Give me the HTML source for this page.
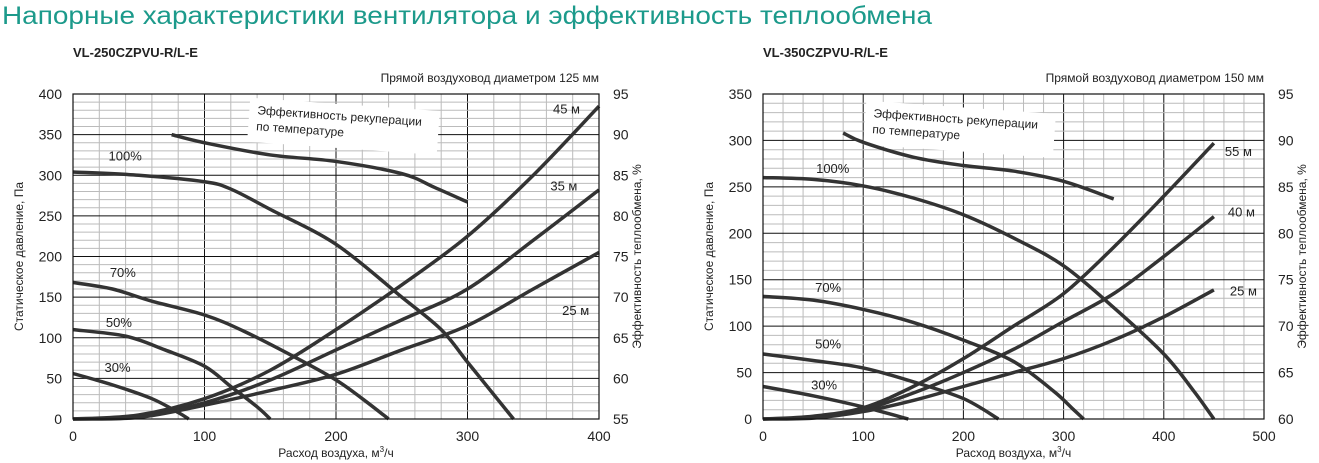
<!DOCTYPE html>
<html><head><meta charset="utf-8"><style>
body{margin:0;background:#fff;width:1319px;height:463px;overflow:hidden;font-family:"Liberation Sans",sans-serif}
svg{position:absolute;left:0;top:0}
text{font-family:"Liberation Sans",sans-serif;fill:#222}
</style></head><body>
<svg id="c" width="1319" height="463">
<text x="2" y="24" font-size="25" style="fill:#1c9a8b" textLength="930" lengthAdjust="spacingAndGlyphs">Напорные характеристики вентилятора и эффективность теплообмена</text>
</svg>
<script>
// Left chart data (x in m3/h, y in Pa; eff in %)
const L_speedLabels=["100%","70%","50%","30%"];
const L_s100x=[0,50,100,120,150,200,250,280,300,320,335];
const L_s100y=[304,300,292,283,258,215,150,110,70,30,0];
const L_s70x=[0,30,60,100,130,170,200,220,240];
const L_s70y=[168,160,145,128,108,75,48,25,0];
const L_s50x=[0,40,70,100,120,140,150];
const L_s50y=[110,102,85,65,40,15,0];
const L_s30x=[0,30,60,80,88];
const L_s30y=[56,42,25,8,0];
const L_effx=[75,100,150,200,250,275,300];
const L_effy=[90,89,87.5,86.7,85.2,83.5,81.7];
const L_ductLabels=["45 м","35 м","25 м"];
const L_d1x=[0,50,100,150,200,250,300,350,400];
const L_d1y=[0,5,25,60,110,165,225,300,385];
const L_d2y=[0,3,20,48,85,122,160,220,282];
const L_d3y=[0,2,17,35,55,85,115,160,205];
const L_xticks=[0,100,200,300,400];
const L_yticks=[0,50,100,150,200,250,300,350,400];
const L_rticks=[55,60,65,70,75,80,85,90,95];
// Right chart data
const R_s100x=[0,50,100,150,200,250,300,350,400,430,450];
const R_s100y=[260,258,251,238,220,195,165,120,70,30,0];
const R_s70x=[0,50,100,150,200,250,290,310,320];
const R_s70y=[132,128,118,104,85,62,30,10,0];
const R_s50x=[0,50,100,150,200,235];
const R_s50y=[70,63,55,40,22,0];
const R_s30x=[0,50,100,145];
const R_s30y=[35,25,13,0];
const R_effx=[80,100,150,200,250,300,350];
const R_effy=[90.8,89.8,88.2,87.3,86.7,85.6,83.7];
const R_ductLabels=["55 м","40 м","25 м"];
const R_dx=[0,50,100,150,200,250,300,350,400,450];
const R_d1y=[0,3,12,35,65,100,135,185,240,297];
const R_d2y=[0,2,10,28,50,75,105,135,175,218];
const R_d3y=[0,1,8,20,35,50,65,85,110,139];
const R_xticks=[0,100,200,300,400,500];
const R_yticks=[0,50,100,150,200,250,300,350];
const R_rticks=[60,65,70,75,80,85,90,95];

const svg=document.getElementById('c');const NS='http://www.w3.org/2000/svg';
function el(t,a,txt){const e=document.createElementNS(NS,t);for(const k in a)e.setAttribute(k,a[k]);if(txt!==undefined)e.textContent=txt;svg.appendChild(e);return e;}
function smooth(p){let d='M'+p[0][0]+','+p[0][1];for(let i=0;i<p.length-1;i++){const p0=p[i-1]||p[i],p1=p[i],p2=p[i+1],p3=p[i+2]||p2;d+=' C'+(p1[0]+(p2[0]-p0[0])/6)+','+(p1[1]+(p2[1]-p0[1])/6)+' '+(p2[0]-(p3[0]-p1[0])/6)+','+(p2[1]-(p3[1]-p1[1])/6)+' '+p2[0]+','+p2[1];}return d;}
function chart(c){
 const X=v=>c.x0+(v-c.xmin)/(c.xmax-c.xmin)*(c.x1-c.x0);
 const Y=v=>c.y0-(v/c.ymax)*(c.y0-c.y1);
 const R=v=>c.y0-(v-c.rmin)/(c.rmax-c.rmin)*(c.y0-c.y1);
 for(let v=0;v<=c.xmax;v+=20){const l=el('line',{x1:X(v),x2:X(v),y1:c.y1,y2:c.y0,stroke:v%100?'#bbb':'#111','stroke-width':1});
 }
 for(let v=0;v<=c.ymax;v+=10){const l=el('line',{x1:c.x0,x2:c.x1,y1:Y(v),y2:Y(v),stroke:v%50?'#bbb':'#111','stroke-width':1});
 }
 c.xt.forEach(v=>{const t=el('text',{x:X(v),y:c.y0+22,'font-size':14,'text-anchor':'middle'},v);});
 c.yt.forEach(v=>{const t=el('text',{x:c.x0-11,y:Y(v)+5,'font-size':14,'text-anchor':'end'},v);});
 c.rt.forEach(v=>{const t=el('text',{x:c.x1+14,y:R(v)+5,'font-size':14},v);});
 let t=el('text',{x:(c.x0+c.x1)/2,y:c.y0+38,'font-size':12,'text-anchor':'middle'});t.innerHTML='Расход воздуха, м<tspan dy="-5" font-size="8">3</tspan><tspan dy="5">/ч</tspan>';
 
 t=el('text',{x:0,y:0,'font-size':12,'text-anchor':'middle',transform:`translate(${c.x0-50},${(c.y0+c.y1)/2}) rotate(-90)`},'Статическое давление, Па');
 
 t=el('text',{x:0,y:0,'font-size':12,'text-anchor':'middle',transform:`translate(${c.x1+42},${(c.y0+c.y1)/2}) rotate(-90)`},'Эффективность теплообмена, %');
 
 t=el('text',{x:c.x0,y:57,'font-size':13,'font-weight':'bold'},c.model);
 t=el('text',{x:c.x1,y:82,'font-size':12,'text-anchor':'end'},c.duct);
 // eff label box
 const bx=X(c.effLab[0]),by=Y(c.effLab[1]);
 const r=el('rect',{x:bx-8,y:by-16,width:190,height:44,fill:'#fff',transform:`rotate(4 ${bx} ${by})`});
 t=el('text',{x:bx,y:by,'font-size':12,transform:`rotate(4 ${bx} ${by})`},'Эффективность рекуперации');
 t=el('text',{x:bx,y:by+16,'font-size':12,transform:`rotate(4 ${bx} ${by})`},'по температуре');
 const line=(xs,ys,f,name)=>{const p=el('path',{d:smooth(xs.map((x,i)=>[X(x),f(ys[i])])),fill:'none',stroke:'#333','stroke-width':3.5,'stroke-linecap':'butt'});};
 c.speeds.forEach((s,i)=>line(s[0],s[1],Y,'fan-curve-'+c.sl[i].replace('%','pct')));
 line(c.eff[0],c.eff[1],R,'efficiency-curve');
 c.ducts.forEach((d,i)=>line(d[0],d[1],Y,'duct-curve-'+i));
 c.sl.forEach((s,i)=>{const t=el('text',{x:X(c.slp[i][0]),y:Y(c.slp[i][1]),'font-size':13},s);});
 c.dl.forEach((s,i)=>{const t=el('text',{x:X(c.dlp[i][0]),y:Y(c.dlp[i][1]),'font-size':13},s);});
 el('rect',{x:c.x0,y:c.y1,width:c.x1-c.x0,height:c.y0-c.y1,fill:'none',stroke:'#111','stroke-width':1.2});
}
chart({x0:73,x1:599,y0:419,y1:94,xmin:0,xmax:400,ymax:400,rmin:55,rmax:95,xt:L_xticks,yt:L_yticks,rt:L_rticks,
 model:'VL-250CZPVU-R/L-E',duct:'Прямой воздуховод диаметром 125 мм',effLab:[140,375],
 speeds:[[L_s100x,L_s100y],[L_s70x,L_s70y],[L_s50x,L_s50y],[L_s30x,L_s30y]],sl:L_speedLabels,slp:[[27,318],[28,175],[25,113],[24,58]],
 eff:[L_effx,L_effy],ducts:[[L_d1x,L_d1y],[L_d1x,L_d2y],[L_d1x,L_d3y]],dl:L_ductLabels,dlp:[[365,376],[363,281],[372,128]]});
chart({x0:763,x1:1264,y0:419,y1:94,xmin:0,xmax:500,ymax:350,rmin:60,rmax:95,xt:R_xticks,yt:R_yticks,rt:R_rticks,
 model:'VL-350CZPVU-R/L-E',duct:'Прямой воздуховод диаметром 150 мм',effLab:[110,325],
 speeds:[[R_s100x,R_s100y],[R_s70x,R_s70y],[R_s50x,R_s50y],[R_s30x,R_s30y]],sl:L_speedLabels,slp:[[53,265],[52,137],[52,76],[48,32]],
 eff:[R_effx,R_effy],ducts:[[R_dx,R_d1y],[R_dx,R_d2y],[R_dx,R_d3y]],dl:R_ductLabels,dlp:[[461,283],[464,218],[466,133]]});
</script>
</body></html>
